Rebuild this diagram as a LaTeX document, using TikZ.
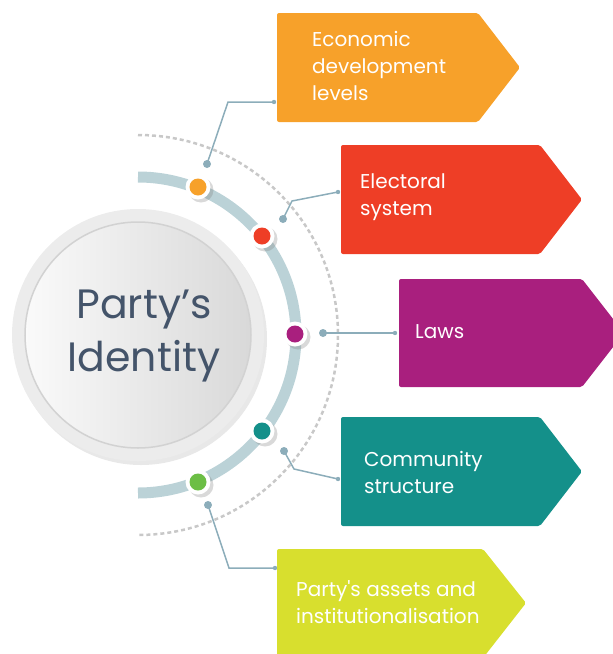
\documentclass[tikz,border=0pt]{standalone}
\usepackage{fontspec}
\setmainfont{Poppins}[Ligatures=TeXOff]
\usetikzlibrary{shadows}
\definecolor{cOrange}{HTML}{F7A12A}
\definecolor{cRed}{HTML}{EE3E26}
\definecolor{cMag}{HTML}{A91F7E}
\definecolor{cTeal}{HTML}{14908A}
\definecolor{cLime}{HTML}{D8DF2E}
\definecolor{cGreen}{HTML}{6CBE45}
\definecolor{cArc}{HTML}{BBD2D7}
\definecolor{cLink}{HTML}{8CADBA}
\definecolor{cDash}{HTML}{C8C8C8}
\definecolor{cTitle}{HTML}{44546A}
\definecolor{cRing}{HTML}{ECECEC}
\definecolor{cRim}{HTML}{D2D2D2}
\begin{document}
\begin{tikzpicture}[x=1pt,y=1pt,
  dotring/.style={circle, fill=white, minimum size=25pt, inner sep=0pt,
    drop shadow={shadow xshift=3pt, shadow yshift=-3pt, opacity=0.3}},
  link/.style={cLink, line width=1.5pt},
  lbl/.style={anchor=west, text=white, align=left, inner sep=0pt,
    font=\fontsize{20}{27}\selectfont},
  boxshape/.style={rounded corners=2pt}]
\useasboundingbox (0,0) rectangle (613,-654);

% dashed outer arc
\draw[cDash, line width=2.5pt, dash pattern=on 4pt off 3pt]
  (138,-135) arc[start angle=90, end angle=-90, radius=200pt];
% thick arc
\draw[cArc, line width=11pt]
  (138,-177) arc[start angle=90, end angle=-90, radius=158pt];

% central circle
\node[circle, fill=cRing, minimum size=252pt, inner sep=0pt,
  drop shadow={shadow xshift=3pt, shadow yshift=-4pt, opacity=0.18}] (core) at (138,-335) {};
\shade[left color=white!98!black, right color=white!85!black] (core.center) circle (113pt);
\draw[cRim, line width=1.5pt] (core.center) circle (113pt);
\node[text=cTitle, align=center, inner sep=0pt, font=\fontsize{41}{53}\selectfont] (title) at (144,-336) {Party’s\\Identity};

% boxes
\fill[cOrange, boxshape] (277,-13) -- (478,-13) -- (520,-67.5) -- (478,-122) -- (277,-122) -- cycle;
\fill[cRed, boxshape] (341,-145) -- (540,-145) -- (582,-199.5) -- (540,-254) -- (341,-254) -- cycle;
\fill[cMag, boxshape] (399,-279) -- (582,-279) -- (624,-333) -- (582,-387) -- (399,-387) -- cycle;
\fill[cTeal, boxshape] (341,-417) -- (540,-417) -- (582,-471.5) -- (540,-526) -- (341,-526) -- cycle;
\fill[cLime, boxshape] (277,-549) -- (483,-549) -- (526,-603) -- (483,-658) -- (277,-658) -- cycle;

\node[lbl] (t1) at (312,-66) {Economic\\development\\levels};
\node[lbl] (t2) at (360,-197) {Electoral\\system};
\node[lbl] (t3) at (415,-332) {Laws};
\node[lbl] (t4) at (364,-472) {Community\\structure};
\node[lbl] (t5) at (296,-602) {Party's assets and\\institutionalisation};

% dots on arc
\node[dotring] (d1) at (198,-187) {};
\node[dotring] (d2) at (262,-236) {};
\node[dotring] (d3) at (295,-334) {};
\node[dotring] (d4) at (262,-431) {};
\node[dotring] (d5) at (198,-482) {};
\fill[cOrange] (d1) circle (8.5pt);
\fill[cRed] (d2) circle (8.5pt);
\fill[cMag] (d3) circle (8.5pt);
\fill[cTeal] (d4) circle (8.5pt);
\fill[cGreen] (d5) circle (8.5pt);

% connectors
\coordinate (s1) at (207,-164); \coordinate (k1) at (228,-102); \coordinate (e1) at (274,-102);
\coordinate (s2) at (283,-219); \coordinate (k2) at (292,-201); \coordinate (e2) at (338,-192);
\coordinate (s3) at (323,-333); \coordinate (e3) at (395,-333);
\coordinate (s4) at (284,-451); \coordinate (k4) at (294,-469); \coordinate (e4) at (338,-479);
\coordinate (s5) at (208,-505); \coordinate (k5) at (229,-568); \coordinate (e5) at (275,-568);
\draw[link] (s1) -- (k1) -- (e1);
\draw[link] (s2) -- (k2) -- (e2);
\draw[link] (s3) -- (e3);
\draw[link] (s4) -- (k4) -- (e4);
\draw[link] (s5) -- (k5) -- (e5);
\foreach \p in {s1,s2,s3,s4,s5} \fill[cLink] (\p) circle (4pt);
\foreach \p in {e1,e2,e3,e4,e5} \fill[cLink] (\p) circle (2.2pt);
\end{tikzpicture}
\end{document}
